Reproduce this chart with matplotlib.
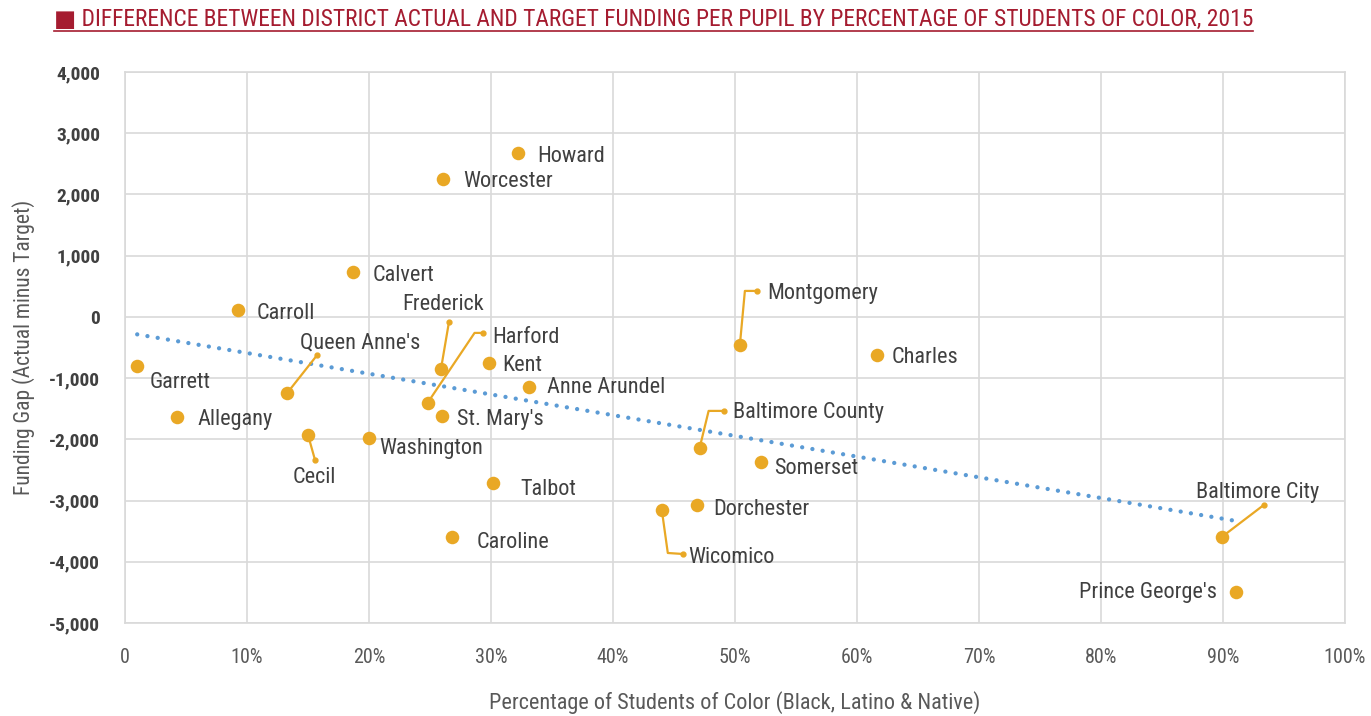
import numpy as np
import matplotlib
matplotlib.use('Agg')
import matplotlib.pyplot as plt
from matplotlib import font_manager

# pick a narrow font if there is one
names = {f.name for f in font_manager.fontManager.ttflist}
font = 'Roboto'
for cand in ['Roboto Condensed', 'Liberation Sans Narrow', 'Roboto']:
    if cand in names:
        font = cand
        break
plt.rcParams['font.family'] = [font, 'DejaVu Sans']

districts = ['Garrett', 'Allegany', 'Carroll', "Queen Anne's", 'Cecil', 'Calvert',
             'Washington', 'Worcester', 'Frederick', 'Harford', "St. Mary's", 'Kent',
             'Howard', 'Anne Arundel', 'Talbot', 'Caroline', 'Wicomico', 'Dorchester',
             'Baltimore County', 'Somerset', 'Montgomery', 'Charles', 'Baltimore City',
             "Prince George's"]
pct_color = [1.0, 4.3, 9.3, 13.3, 15.0, 18.7, 20.0, 26.1, 25.9, 24.8, 26.0, 29.8,
             32.2, 33.1, 30.2, 26.8, 44.0, 46.9, 47.1, 52.1, 50.4, 61.6, 89.9, 91.1]
funding_gap = [-800, -1634, 114, -1242, -1928, 735, -1977, 2255, -850, -1405, -1618, -752,
               2680, -1144, -2712, -3595, -3154, -3072, -2140, -2369, -458, -621, -3595,
               -4493]

x_ticks = [0, 10, 20, 30, 40, 50, 60, 70, 80, 90, 100]
x_labels = ['0'] + ['%d%%' % t for t in x_ticks[1:]]
y_ticks = list(range(-5000, 4001, 1000))

# label offsets in pixels: (dx, dy, ha)
label_pos = {
    'Garrett': (12, -15, 'left'), 'Allegany': (20, -1, 'left'), 'Carroll': (18, -2, 'left'),
    "Queen Anne's": (73, 52, 'center'), 'Cecil': (6, -41, 'center'),
    'Calvert': (19, -2, 'left'), 'Washington': (10, -9, 'left'),
    'Worcester': (20, -1, 'left'), 'Frederick': (2, 66, 'center'),
    'Harford': (65, 67, 'left'), "St. Mary's": (15, -2, 'left'), 'Kent': (14, -1, 'left'),
    'Howard': (19, -2, 'left'), 'Anne Arundel': (18, 1, 'left'), 'Talbot': (27, -5, 'left'),
    'Caroline': (25, -4, 'left'), 'Wicomico': (26, -46, 'left'),
    'Dorchester': (16, -3, 'left'), 'Baltimore County': (33, 37, 'left'),
    'Somerset': (14, -5, 'left'), 'Montgomery': (27, 53, 'left'), 'Charles': (15, -1, 'left'),
    'Baltimore City': (36, 46, 'center'), "Prince George's": (-19, 1, 'right'),
}
# leader line vertices in pixels relative to the point
leaders = {
    "Queen Anne's": [(0, 0), (30, 38)],
    'Cecil': [(0, 0), (7, -25)],
    'Frederick': [(0, 0), (8, 47)],
    'Harford': [(0, 0), (47, 70), (55, 70)],
    'Wicomico': [(0, 0), (6, -43), (21, -44)],
    'Baltimore County': [(0, 0), (9, 37), (24, 37)],
    'Montgomery': [(0, 0), (5, 54), (17, 54)],
    'Baltimore City': [(0, 0), (42, 32)],
}

gold = '#E9A825'
red = '#A51C30'
text_col = '#404040'

fig = plt.figure(figsize=(13.71, 7.16), dpi=100)
ax = fig.add_axes([125 / 1371, 93 / 716, 1220 / 1371, 551 / 716])
ax.set_xlim(0, 100)
ax.set_ylim(-5000, 4000)
ax.set_xticks(x_ticks)
ax.set_xticklabels(x_labels, fontsize=14.5, color='#595959')
ax.set_yticks(y_ticks)
ax.set_yticklabels(['{:,}'.format(v) for v in y_ticks], fontsize=14,
                   fontweight='bold', color=text_col)
ax.tick_params(axis='x', length=0, pad=18)
ax.tick_params(axis='y', length=0, pad=18)
ax.grid(True, color='#D9D9D9', linewidth=1.2)
ax.set_axisbelow(True)
for s in ax.spines.values():
    s.set_color('#D9D9D9')
    s.set_linewidth(1.2)

# trendline
fit = np.polyfit(pct_color, funding_gap, 1)
tx = np.array([min(pct_color), max(pct_color)])
ax.plot(tx, np.polyval(fit, tx), color='#5B9BD5', linewidth=3.1,
        linestyle=(0, (0.01, 2.4)), dash_capstyle='round', zorder=2)

ax.scatter(pct_color, funding_gap, s=95, color=gold, zorder=4, linewidths=0)

to_data = ax.transData.inverted()
for name, x, y in zip(districts, pct_color, funding_gap):
    dx, dy, ha = label_pos[name]
    ax.annotate(name, (x, y), xytext=(dx, dy - 2), textcoords='offset pixels',
                ha=ha, va='center', fontsize=16, color=text_col, zorder=5)
    if name in leaders:
        px, py = ax.transData.transform((x, y))
        pts = to_data.transform([(px + a, py + b) for a, b in leaders[name]])
        ax.plot(pts[:, 0], pts[:, 1], color=gold, linewidth=1.6, zorder=3)
        ax.plot(pts[-1, 0], pts[-1, 1], 'o', color=gold, markersize=3.5, zorder=3)

ax.set_xlabel('Percentage of Students of Color (Black, Latino & Native)',
              fontsize=16, color='#595959', labelpad=17)
ax.set_ylabel('Funding Gap (Actual minus Target)', fontsize=15.5,
              color='#595959', labelpad=10)

title = fig.text(54 / 1371, 1 - 19 / 716,
                 '\u25A0 DIFFERENCE BETWEEN DISTRICT ACTUAL AND TARGET FUNDING PER PUPIL '
                 'BY PERCENTAGE OF STUDENTS OF COLOR, 2015',
                 fontsize=16.9, color=red, va='center', ha='left')
fig.canvas.draw()
bb = title.get_window_extent()
fig.add_artist(plt.Line2D([bb.x0 / 1371, bb.x1 / 1371], [1 - 31 / 716, 1 - 31 / 716],
                          color=red, linewidth=1.2, transform=fig.transFigure))

fig.savefig('out.png', dpi=100)
